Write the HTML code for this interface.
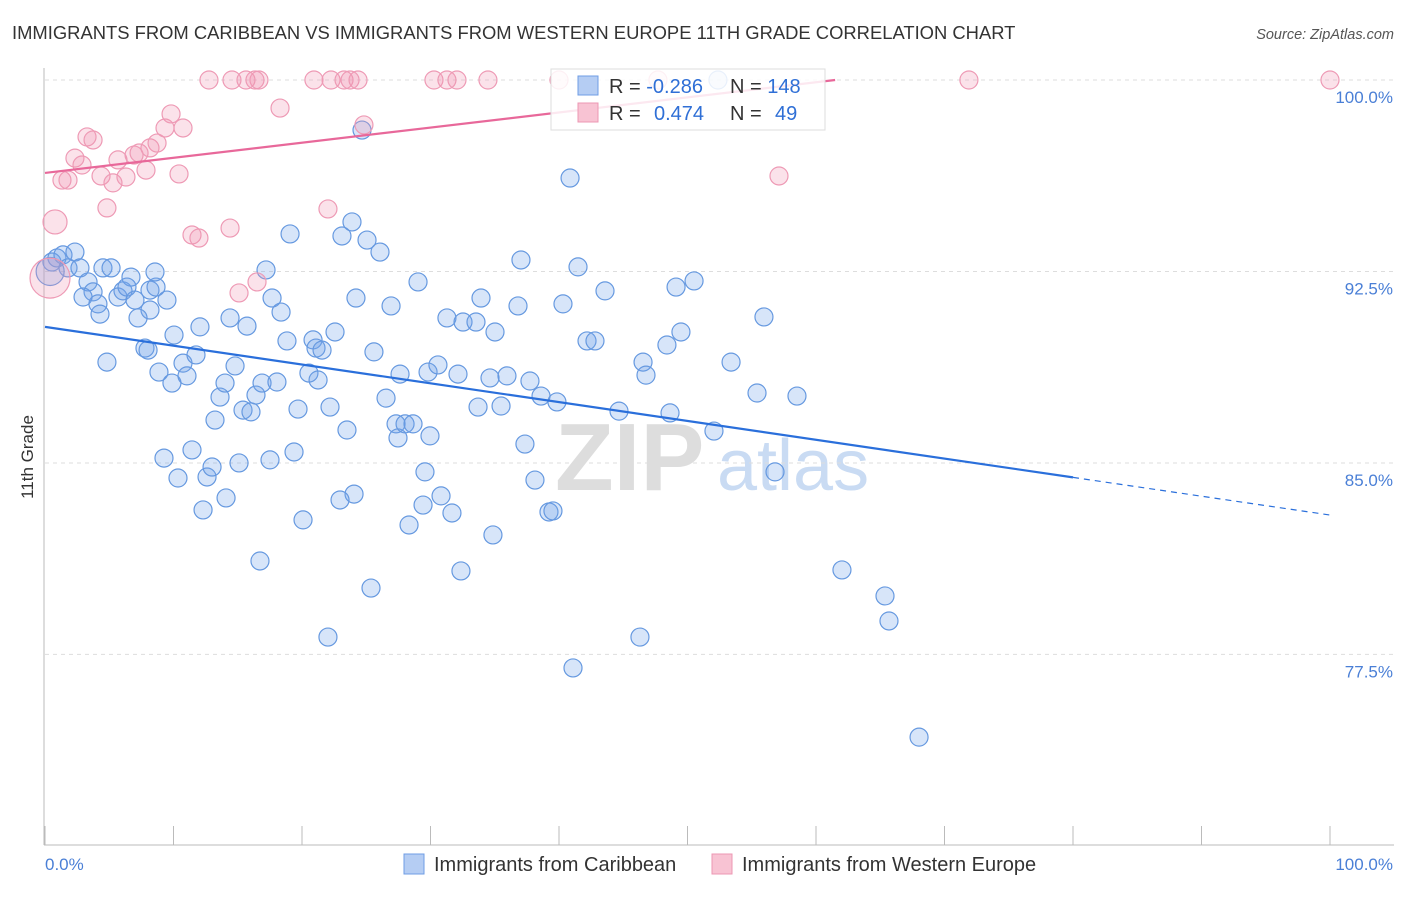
<!DOCTYPE html>
<html><head><meta charset="utf-8"><style>
body{margin:0;background:#fff;font-family:"Liberation Sans",sans-serif}
svg text{font-family:"Liberation Sans",sans-serif}
</style></head><body>
<svg width="1406" height="892" viewBox="0 0 1406 892">
<text x="12" y="39" font-size="18.4" fill="#333">IMMIGRANTS FROM CARIBBEAN VS IMMIGRANTS FROM WESTERN EUROPE 11TH GRADE CORRELATION CHART</text>
<text x="1394" y="39" font-size="14.5" fill="#555" font-style="italic" text-anchor="end">Source: ZipAtlas.com</text>
<text transform="translate(33,457) rotate(-90)" font-size="17" fill="#333" text-anchor="middle">11th Grade</text>
<g><text x="555" y="490" font-size="96" font-family="Liberation Serif,serif" fill="#ddd" font-weight="bold">ZIP</text><text x="717" y="490" font-size="72" fill="#c9dbf3">atlas</text></g>
<g id="grid"></g><g id="axes"></g><g id="marks"></g><g id="lines"></g>
<g>
<rect x="551" y="69" width="274" height="61" fill="rgba(255,255,255,0.85)" stroke="#ddd"/>
<rect x="578" y="76" width="20" height="19" fill="#b5cdf3" stroke="#6f9de5"/>
<rect x="578" y="103" width="20" height="19" fill="#f8c3d3" stroke="#ec97b3"/>
<text x="609" y="93" font-size="20" fill="#333">R = <tspan fill="#2f6fd6">-0.286</tspan></text>
<text x="730" y="93" font-size="20" fill="#333">N = <tspan fill="#2f6fd6">148</tspan></text>
<text x="609" y="120" font-size="20" fill="#333">R = <tspan fill="#2f6fd6" x="654">0.474</tspan></text>
<text x="730" y="120" font-size="20" fill="#333">N = <tspan fill="#2f6fd6" x="775">49</tspan></text>
</g>
<g>
<rect x="404" y="854" width="20" height="20" fill="#b5cdf3" stroke="#6f9de5"/>
<text x="434" y="871" font-size="20" fill="#333">Immigrants from Caribbean</text>
<rect x="712" y="854" width="20" height="20" fill="#f8c3d3" stroke="#ec97b3"/>
<text x="742" y="871" font-size="20" fill="#333">Immigrants from Western Europe</text>
</g>
</svg>
<script>
const blueX=[0.54,0.93,1.40,2.33,1.79,2.72,4.51,5.14,3.35,3.74,2.96,4.12,4.28,5.68,6.07,6.69,6.38,7.00,8.17,8.64,8.56,9.49,8.17,7.24,4.82,7.78,8.02,8.87,9.88,10.04,10.74,11.05,11.75,12.06,9.26,10.35,11.44,12.61,13.00,12.30,14.09,15.10,13.23,13.62,14.01,14.79,14.40,15.72,15.41,16.03,16.42,16.89,17.20,17.67,18.37,18.05,18.83,19.07,17.51,19.38,16.73,19.69,20.08,20.54,20.86,21.25,21.09,21.56,22.57,22.18,23.11,23.89,24.20,23.50,25.06,25.60,26.07,26.54,26.93,27.32,27.63,27.47,28.02,28.64,29.96,29.03,29.57,28.33,29.42,30.82,31.67,29.81,30.58,32.14,31.28,32.53,33.54,33.93,33.70,35.02,35.49,35.95,36.81,37.04,37.35,37.74,38.13,38.60,39.22,39.53,39.84,40.31,40.86,41.48,42.18,42.80,43.58,44.67,46.30,46.54,46.77,48.40,48.64,49.11,49.49,50.51,52.06,53.39,55.41,55.95,56.81,58.52,62.02,65.37,65.68,68.02,52.37,24.67,34.86,32.37,25.37,22.02,41.09,34.63,24.05,22.96,0.4];
const blueY=[92.87,93.03,93.15,93.26,92.64,92.64,92.64,92.64,92.09,91.70,91.50,91.23,90.83,91.50,91.74,92.28,91.89,91.38,91.77,91.89,92.48,91.38,90.99,90.68,88.95,89.50,89.42,88.56,88.13,90.01,88.91,88.41,89.23,90.33,85.19,84.41,85.51,84.45,84.84,83.16,83.63,85.00,86.68,87.58,88.13,88.80,90.68,90.36,87.07,87.00,87.66,88.13,92.56,91.46,90.91,88.17,89.78,93.97,85.12,85.43,81.16,87.11,82.77,88.52,89.82,88.25,89.50,89.42,90.13,87.19,93.89,94.44,91.46,86.29,93.73,89.35,93.26,87.54,91.15,86.53,88.48,85.98,86.53,86.53,86.06,92.09,84.65,82.57,83.35,83.71,83.04,88.56,88.84,88.48,90.68,90.52,90.52,91.46,87.19,90.13,87.23,88.41,91.15,92.95,85.74,88.21,84.33,87.62,83.08,83.12,87.39,91.23,96.16,92.68,89.78,89.78,91.74,87.03,78.18,88.95,88.44,89.62,86.96,91.89,90.13,92.13,86.25,88.95,87.74,90.72,84.65,87.62,80.81,79.79,78.81,74.26,100,98.04,82.18,80.77,80.10,78.18,76.97,88.33,83.78,83.55,92.5];
const pinkX=[0.78,0.39,1.32,1.79,2.33,2.88,3.27,3.74,4.36,4.82,5.29,5.68,6.30,6.93,7.32,7.86,8.17,8.72,9.34,9.81,10.74,10.43,11.44,11.98,14.40,15.10,16.50,18.29,22.02,24.82,12.76,14.55,15.64,16.65,20.93,22.26,23.27,24.36,30.27,31.28,32.06,34.47,40.0,47.7,71.9,100,16.34,23.74,57.12];
const pinkY=[94.44,92.24,96.08,96.08,96.94,96.67,97.77,97.65,96.24,94.99,95.97,96.87,96.20,97.06,97.14,96.47,97.34,97.53,98.12,98.67,98.12,96.32,93.93,93.81,94.20,91.66,92.09,98.90,94.95,98.24,100,100,100,100,100,100,100,100,100,100,100,100,100,100,100,100,100,100,96.24];
const yTicks=[100,92.5,85,77.5];
const yTickLabels=["100.0%","92.5%","85.0%","77.5%"];
const xTicks=[0,10,20,30,40,50,60,70,80,90,100];
const blueLine=[90.33,82.96];
const pinkLine=[96.36,102.28];
const NS="http://www.w3.org/2000/svg";
const sx=v=>45+v*12.85, sy=v=>80+(100-v)*25.53;
function mk(tag,attrs,parent){const e=document.createElementNS(NS,tag);for(const k in attrs)e.setAttribute(k,attrs[k]);document.getElementById(parent).appendChild(e);return e;}
yTicks.forEach((t,i)=>{
 const g=mk('line',{x1:45,x2:1394,y1:sy(t),y2:sy(t),stroke:'#ddd','stroke-dasharray':'4,4'},'grid');
 
 
 const l=mk('text',{x:1393,y:sy(t)+23,'font-size':17,fill:'#4a7fd6','text-anchor':'end'},'grid');
 l.textContent=yTickLabels[i];
 
 
});
const ax=mk('line',{x1:44,x2:44,y1:68,y2:845,stroke:'#bbb'},'axes');


const bx=mk('line',{x1:44,x2:1394,y1:845,y2:845,stroke:'#bbb'},'axes');


xTicks.forEach(t=>{const k=mk('line',{x1:sx(t),x2:sx(t),y1:826,y2:845,stroke:'#bbb'},'axes');
 
 });
[[0,'0.0%','start',45],[100,'100.0%','end',1393]].forEach(a=>{const t=mk('text',{x:a[3],y:870,'font-size':17,fill:'#4a7fd6','text-anchor':a[2]},'axes');t.textContent=a[1];
 
 });
blueX.forEach((x,i)=>{const c=mk('circle',{cx:sx(x),cy:sy(blueY[i]),r:i==blueX.length-1?14:9,fill:'rgba(110,160,235,0.28)',stroke:'#6699e0','stroke-width':1.2},'marks');
 
 });
pinkX.forEach((x,i)=>{const c=mk('circle',{cx:sx(x),cy:sy(pinkY[i]),r:i==0?12:(i==1?20:9),fill:'rgba(242,150,180,0.28)',stroke:'#ee9ab5','stroke-width':1.2},'marks');
 
 });
const by=x=>blueLine[0]+(blueLine[1]-blueLine[0])*x/100;
const l1=mk('line',{x1:sx(0),y1:sy(by(0)),x2:sx(80),y2:sy(by(80)),stroke:'#2a6fdb','stroke-width':2.2},'lines');


const l2=mk('line',{x1:sx(80),y1:sy(by(80)),x2:sx(100),y2:sy(by(100)),stroke:'#2a6fdb','stroke-width':1.2,'stroke-dasharray':'6,5'},'lines');


const xEnd=(100-pinkLine[0])/(pinkLine[1]-pinkLine[0])*100;
const l3=mk('line',{x1:sx(0),y1:sy(pinkLine[0]),x2:sx(xEnd),y2:sy(100),stroke:'#e8689a','stroke-width':2.2},'lines');


</script>
</body></html>
